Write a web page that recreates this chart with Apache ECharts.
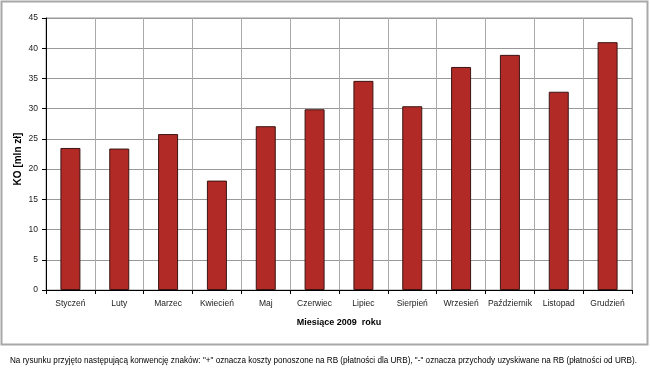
<!DOCTYPE html>
<html><head><meta charset="utf-8">
<script src="https://cdn.jsdelivr.net/npm/echarts@6/dist/echarts.min.js"></script>
<style>html,body{margin:0;padding:0;background:#fff}#c{width:650px;height:370px}</style>
</head><body><div id="c"></div>
<script>
const categories = ['Styczeń','Luty','Marzec','Kwiecień','Maj','Czerwiec','Lipiec','Sierpień','Wrzesień','Październik','Listopad','Grudzień'];
const values = [23.5, 23.4, 25.8, 18.1, 27.1, 29.9, 34.6, 30.4, 36.9, 38.9, 32.8, 41.0];
const yTicks = [0, 45, 5];
const yAxisTitle = 'KO [mln zł]';
const xAxisTitle = 'Miesiące 2009  roku';
const footnote = 'Na rysunku przyjęto następującą konwencję znaków: "+" oznacza koszty ponoszone na RB (płatności dla URB), "-" oznacza przychody uzyskiwane na RB (płatności od URB).';

const font = 'Liberation Sans, Arial, sans-serif';
const footFont = '9px ' + font;
const cv = document.createElement('canvas').getContext('2d');
cv.font = footFont;
const footScale = 627 / cv.measureText(footnote).width;

const chart = echarts.init(document.getElementById('c'), null, {renderer:'canvas'});
chart.setOption({
  animation: false,
  backgroundColor: '#fff',
  grid: {left: 46, top: 18, right: 18, bottom: 80, show: true, borderColor: '#999', borderWidth: 1},
  graphic: [
    {type:'rect', shape:{x:1.5, y:1.5, width:646, height:343}, style:{fill:'none', stroke:'#a8a8a8', lineWidth:2}, silent:true},
    {type:'text', x: 10, y: 356, scaleX: footScale, style:{text: footnote, font: footFont, fill:'#000'}},
    {type:'text', x: 18, y: 159, rotation: Math.PI / 2, style:{text: yAxisTitle, font: 'bold 10px ' + font, fill:'#000', align:'center', verticalAlign:'middle'}}
  ],
  xAxis: {
    type: 'category', data: categories,
    name: xAxisTitle, nameLocation: 'middle', nameGap: 28,
    nameTextStyle: {fontFamily: font, fontWeight: 'bold', fontSize: 9, color: '#000'},
    axisLine: {lineStyle: {color: '#000', width: 1}},
    axisTick: {show: true, length: 4, lineStyle: {color:'#000'}},
    axisLabel: {fontFamily: font, fontSize: 8.5, color: '#222', margin: 9, interval: 0},
    splitLine: {show: true, lineStyle: {color: '#aaa', width: 1}}
  },
  yAxis: {
    type: 'value', min: yTicks[0], max: yTicks[1], interval: yTicks[2],
    axisLine: {show: true, lineStyle: {color: '#000', width: 1}},
    axisTick: {show: true, length: 4, lineStyle: {color:'#000'}},
    axisLabel: {fontFamily: font, fontSize: 8.5, color: '#222', margin: 8},
    splitLine: {show: true, lineStyle: {color: '#999', width: 1}}
  },
  series: [{
    type: 'bar', data: values, barWidth: 20,
    itemStyle: {color: '#B22A26', borderColor: '#3b1414', borderWidth: 1}
  }]
});
</script></body></html>
